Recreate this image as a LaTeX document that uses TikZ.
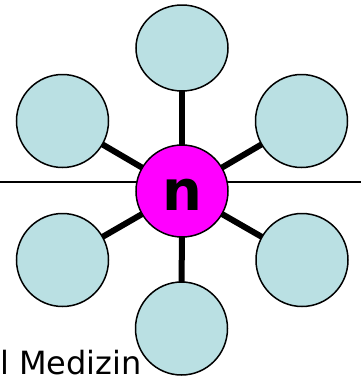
\documentclass[tikz,border=0pt]{standalone}
\usepackage{fontspec}
\setmainfont{DejaVu Sans}
\usetikzlibrary{shapes.geometric,backgrounds}
\definecolor{lblue}{HTML}{BAE0E3}
\definecolor{mag}{HTML}{FF00FF}
\tikzset{
  outer/.style={ellipse,draw=black,line width=1.5pt,fill=lblue,inner sep=0pt,minimum width=92pt,minimum height=93pt},
  hub/.style={circle,draw=black,line width=1.5pt,fill=mag,inner sep=0pt,minimum size=92pt},
  spoke/.style={line width=6pt,draw=black},
  rule/.style={line width=2pt,draw=black}
}
\begin{document}
\begin{tikzpicture}[x=1pt,y=-1pt]
\useasboundingbox (0,0) rectangle (361,378);
\node[hub] (c) at (182,191) {};
\node[font=\bfseries\fontsize{56}{60}\selectfont,inner sep=0pt] (ntext) at (182.5,195) {n};
\node[outer,minimum height=86pt] (t) at (182,48) {};
\node[outer] (ul) at (62.5,121) {};
\node[outer] (ur) at (301.5,121) {};
\node[outer] (ll) at (62.5,260) {};
\node[outer] (lr) at (302,260) {};
\node[anchor=base west,inner sep=0pt,font=\fontsize{32}{36}\selectfont] (lab) at (0,374.5) {l Medizin};
\node[outer] (b) at (181.5,328.5) {};
\coordinate (hl) at (0,182);
\coordinate (hr) at (361,182);
\begin{scope}[on background layer]
\draw[rule] (hl) -- (hr);
\foreach \n in {t,ul,ur,ll,lr,b} \draw[spoke] (c.center) -- (\n.center);
\end{scope}
\end{tikzpicture}
\end{document}
